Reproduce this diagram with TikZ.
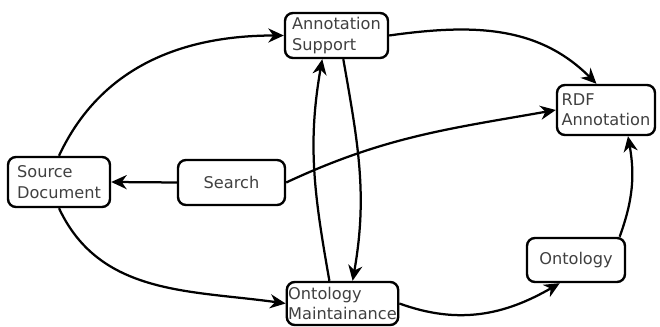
\documentclass[tikz,border=0pt]{standalone}
\usepackage{fontspec}
\setmainfont{DejaVu Sans}
\usetikzlibrary{arrows.meta}
\begin{document}
\begin{tikzpicture}[
    x=0.025cm, y=0.025cm,
    % Box styles
    block/.style={draw=black, line width=1.7pt, rounded corners=0.2cm, align=left, inner xsep=1pt, inner ysep=2pt, font=\fontsize{11.5}{14.5}\selectfont, text=black!75},
    % Arrow styles
    flow/.style={-{Stealth[length=11pt, width=10pt, inset=3.5pt]}, line width=1.6pt},
]
\useasboundingbox (0,0) rectangle (660,327);

% === BOXES ===
\node[block, minimum width=2.55cm, minimum height=1.25cm] (source) at (59, 145) {Source\\Document};
\node[block, minimum width=2.575cm, minimum height=1.125cm] (support) at (336.5, 291.5) {Annotation\\Support};
\node[block, minimum width=2.625cm, minimum height=1.075cm] (maint) at (342.5, 23.5) {Ontology\\Maintainance};
\node[block, minimum width=2.675cm, minimum height=1.125cm] (search) at (231.5, 144.5) {Search};
\node[block, minimum width=2.45cm, minimum height=1.25cm] (rdf) at (606, 217) {RDF\\Annotation};
\node[block, minimum width=2.45cm, minimum height=1.1cm] (onto) at (576, 67) {Ontology};

% === CONNECTORS ===
\draw[flow] (source.north) to[out=65, in=180] (support.west);
\draw[flow] (source.south) to[out=-65, in=172] (maint.west);
\draw[flow] (search.west) -- (source.east);
\draw[flow] (search.east) to[out=25, in=190] (rdf.west);
\draw[flow] (support.east) to[out=8, in=135] (rdf.110);

% Support <-> Maintainance
\draw[flow] (support.-74) to[out=-80, in=80] (maint.66);
\draw[flow] (maint.120) to[out=100, in=-100] (support.-121);

% Maintainance to Ontology to RDF
\draw[flow] (maint.east) to[out=-20, in=210] (onto.-125);
\draw[flow] (onto.28) to[out=70, in=-80] (rdf.-50);

\end{tikzpicture}
\end{document}
